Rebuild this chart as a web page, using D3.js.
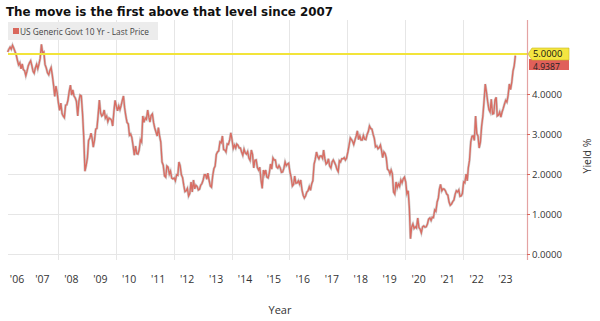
<!DOCTYPE html>
<html><head><meta charset="utf-8">
<script src="https://cdn.jsdelivr.net/npm/d3@7"></script>
<style>body{margin:0;background:#fff}svg{display:block}</style>
</head><body><svg id="c" width="600" height="321"></svg>
<script>
// semi-monthly closes (two per month), US 10Y yield %
const y2006 = [5.05,5.12, 5.17,5.12, 5.22,5.15, 5.07,4.99, 4.85,4.73, 4.78,4.63, 4.75,4.61, 4.58,4.46, 4.57,4.70]; // from April
const y2007 = [4.78,4.83, 4.70,4.56, 4.52,4.65, 4.74,4.63, 4.75,4.89, 5.24,5.03, 5.05,4.74, 4.65,4.53, 4.48,4.59, 4.66,4.47, 4.22,3.94, 4.20,4.03];
const y2008 = [3.78,3.59, 3.77,3.51, 3.45,3.41, 3.72,3.73, 3.85,4.06, 4.22,3.97, 4.10,3.95, 3.90,3.81, 3.45,3.82, 3.97,3.95, 3.50,2.92, 2.07,2.21];
const y2009 = [2.40,2.84, 2.90,3.02, 2.90,2.67, 2.85,3.12, 3.14,3.46, 3.85,3.53, 3.45,3.48, 3.60,3.40, 3.45,3.31, 3.40,3.38, 3.35,3.20, 3.55,3.84];
const y2010 = [3.70,3.58, 3.70,3.61, 3.70,3.83, 3.95,3.65, 3.45,3.29, 3.25,2.97, 3.00,2.91, 2.70,2.47, 2.70,2.51, 2.50,2.60, 2.85,2.80, 3.45,3.29];
const y2011 = [3.40,3.37, 3.60,3.42, 3.30,3.46, 3.50,3.29, 3.15,3.05, 2.95,3.16, 2.95,2.80, 2.30,2.22, 1.95,1.92, 2.20,2.17, 2.00,2.07, 1.90,1.88];
const y2012 = [1.90,1.83, 1.98,1.97, 2.30,2.21, 1.98,1.91, 1.72,1.56, 1.58,1.64, 1.45,1.51, 1.80,1.55, 1.85,1.63, 1.72,1.69, 1.60,1.62, 1.72,1.76];
const y2013 = [1.85,1.98, 1.98,1.87, 2.02,1.85, 1.70,1.67, 1.95,2.13, 2.20,2.49, 2.55,2.58, 2.80,2.78, 2.95,2.61, 2.60,2.55, 2.75,2.74, 2.85,3.03];
const y2014 = [2.85,2.64, 2.72,2.65, 2.75,2.72, 2.65,2.65, 2.55,2.47, 2.62,2.53, 2.50,2.56, 2.40,2.34, 2.60,2.49, 2.15,2.34, 2.35,2.16, 2.10,2.17];
const y2015 = [1.85,1.64, 2.10,2.00, 2.10,1.92, 1.90,2.03, 2.25,2.12, 2.40,2.35, 2.35,2.18, 2.15,2.21, 2.15,2.04, 2.05,2.14, 2.30,2.21, 2.25,2.27];
const y2016 = [2.05,1.92, 1.70,1.74, 1.95,1.77, 1.78,1.83, 1.75,1.85, 1.60,1.47, 1.40,1.45, 1.55,1.58, 1.68,1.59, 1.75,1.83, 2.25,2.37, 2.55,2.44];
const y2017 = [2.38,2.45, 2.45,2.39, 2.60,2.39, 2.25,2.28, 2.38,2.20, 2.15,2.30, 2.35,2.29, 2.22,2.12, 2.06,2.33, 2.30,2.38, 2.38,2.41, 2.35,2.40];
const y2018 = [2.55,2.71, 2.90,2.86, 2.82,2.74, 2.85,2.95, 3.08,2.86, 2.95,2.85, 2.85,2.96, 2.87,2.86, 2.99,3.06, 3.20,3.14, 3.12,2.99, 2.89,2.68];
const y2019 = [2.70,2.63, 2.66,2.72, 2.60,2.41, 2.55,2.51, 2.40,2.12, 2.09,2.00, 2.10,2.01, 1.55,1.50, 1.80,1.66, 1.75,1.69, 1.85,1.78, 1.88,1.92];
const y2020 = [1.80,1.51, 1.58,1.15, 0.38,0.67, 0.75,0.64, 0.68,0.65, 0.90,0.66, 0.62,0.53, 0.68,0.70, 0.67,0.68, 0.75,0.87, 0.90,0.84, 0.92,0.91];
const y2021 = [1.10,1.07, 1.30,1.40, 1.62,1.74, 1.58,1.63, 1.62,1.58, 1.50,1.47, 1.30,1.22, 1.25,1.31, 1.35,1.49, 1.58,1.55, 1.60,1.44, 1.45,1.51];
const y2022 = [1.80,1.78, 2.00,1.83, 2.15,2.34, 2.80,2.94, 2.95,2.84, 3.45,3.01, 2.95,2.65, 2.80,3.19, 3.45,3.83, 4.25,4.05, 3.80,3.61, 3.55,3.87];
const y2023 = [3.50,3.51, 3.85,3.92, 3.45,3.47, 3.55,3.42, 3.55,3.64, 3.75,3.84, 3.80,3.96, 4.25,4.11, 4.30,4.57, 4.70,4.96];
const years = [2006,2007,2008,2009,2010,2011,2012,2013,2014,2015,2016,2017,2018,2019,2020,2021,2022,2023];
const yearSeries = [y2006,y2007,y2008,y2009,y2010,y2011,y2012,y2013,y2014,y2015,y2016,y2017,y2018,y2019,y2020,y2021,y2022,y2023];
const yearLabels = ["'06","'07","'08","'09","'10","'11","'12","'13","'14","'15","'16","'17","'18","'19","'20","'21","'22","'23"];
const yTicks = [0,1,2,3,4];
const refLevel = 5;
const lastPriceLabel = "4.9387";
const title = "The move is the first above that level since 2007";
const legendText = "US Generic Govt 10 Yr - Last Price";

const data = [];
yearSeries.forEach((arr, yi) => {
  const startM = years[yi] === 2006 ? 3 : 0;
  arr.forEach((v, i) => {
    data.push({date: new Date(years[yi], startM + Math.floor(i/2), i % 2 ? 23 : 8), v});
  });
});

const svg = d3.select("#c");
const L = 8, R = 527, T = 20, B = 260;
const x = d3.scaleTime().domain([new Date(2006,0,1), new Date(2024,0,1)]).range([0, 18*28.94]);
const y = d3.scaleLinear().domain([0,5]).range([254,54]);

// gridlines
const grid = svg.append("g").attr("stroke","#e6e6e6").attr("stroke-width",1);
yTicks.concat([5]).forEach(t => grid.append("line").attr("x1",L).attr("x2",R).attr("y1",Math.round(y(t))+0.5).attr("y2",Math.round(y(t))+0.5));
d3.range(2008,2024,2).forEach(yr => grid.append("line").attr("y1",T).attr("y2",B)
  .attr("x1",Math.round(x(new Date(yr,0,1)))+0.5).attr("x2",Math.round(x(new Date(yr,0,1)))+0.5));

// legend
svg.append("rect").attr("x",8).attr("y",22).attr("width",150).attr("height",18).attr("fill","#ececec");
svg.append("rect").attr("x",13).attr("y",28).attr("width",6).attr("height",6).attr("fill","#d9675c");
svg.append("text").attr("x",20).attr("y",34.5).attr("font-family","Open Sans").attr("font-size",8.3)
  .attr("fill","#444").text(legendText);

// series
const line = d3.line().x(d => x(d.date)).y(d => y(d.v));
svg.append("path").datum(data).attr("d",line).attr("fill","none").attr("stroke","#a8a8a8").attr("stroke-width",2.6).attr("opacity",0.55);
svg.append("path").datum(data).attr("d",line).attr("fill","none").attr("stroke","#d96d63").attr("stroke-width",1.4);

// reference line
svg.append("line").attr("x1",L).attr("x2",R+1).attr("y1",y(refLevel)).attr("y2",y(refLevel))
  .attr("stroke","#f2e43a").attr("stroke-width",2);

// right axis
svg.append("line").attr("x1",R+0.5).attr("x2",R+0.5).attr("y1",T).attr("y2",B).attr("stroke","#e4a3a3").attr("stroke-width",1.2);
const ax = svg.append("g").attr("transform",`translate(${R},0)`)
  .call(d3.axisRight(y).tickValues(yTicks).tickSize(3).tickPadding(2).tickFormat(d3.format(".4f")));
ax.select(".domain").remove();
ax.selectAll("line").attr("stroke","#d9675c");
ax.selectAll("text").attr("font-family","Open Sans").attr("font-size",9.6).attr("fill","#333");

// last price label (red) then 5.0000 label (yellow)
const ly = y(refLevel);
svg.append("rect").attr("x",529).attr("y",ly+5).attr("width",40).attr("height",11).attr("fill","#e0605a");
svg.append("text").attr("x",533).attr("y",ly+15.5).attr("font-family","Open Sans").attr("font-size",8.6).attr("fill","#222").text(lastPriceLabel);
svg.append("path").attr("d",`M${R+1},${ly} L${R+5},${ly-6} L569,${ly-6} L569,${ly+6} L${R+5},${ly+6} Z`)
  .attr("fill","#f4e540").attr("stroke","#c8b820").attr("stroke-width",0.6);
svg.append("text").attr("x",533).attr("y",ly+3.3).attr("font-family","Open Sans").attr("font-size",9.4).attr("fill","#111").text(d3.format(".4f")(refLevel));

// x labels centered in the visible part of each year
const x0 = x(new Date(2006,3,1));
svg.append("g").selectAll("text").data(years).join("text")
  .attr("x",(d,i) => (Math.max(x0, x(new Date(d,0,1))) + x(new Date(d+1,0,1)))/2 - 1)
  .attr("y",283).attr("text-anchor","middle").attr("font-family","Open Sans").attr("font-size",10.5).attr("fill","#333")
  .text((d,i) => yearLabels[i]);

svg.append("text").attr("x",280).attr("y",314).attr("text-anchor","middle").attr("font-family","Open Sans").attr("font-size",11).attr("fill","#333").text("Year");
svg.append("text").attr("transform","translate(591,156) rotate(-90)").attr("text-anchor","middle").attr("font-family","Open Sans").attr("font-size",10.5).attr("fill","#333").text("Yield %");

// title
svg.append("text").attr("x",6).attr("y",16).attr("font-family","DejaVu Sans").attr("font-weight","bold").attr("font-size",13)
  .attr("fill","#111").attr("textLength",327).attr("lengthAdjust","spacingAndGlyphs").text(title);
</script></body></html>
